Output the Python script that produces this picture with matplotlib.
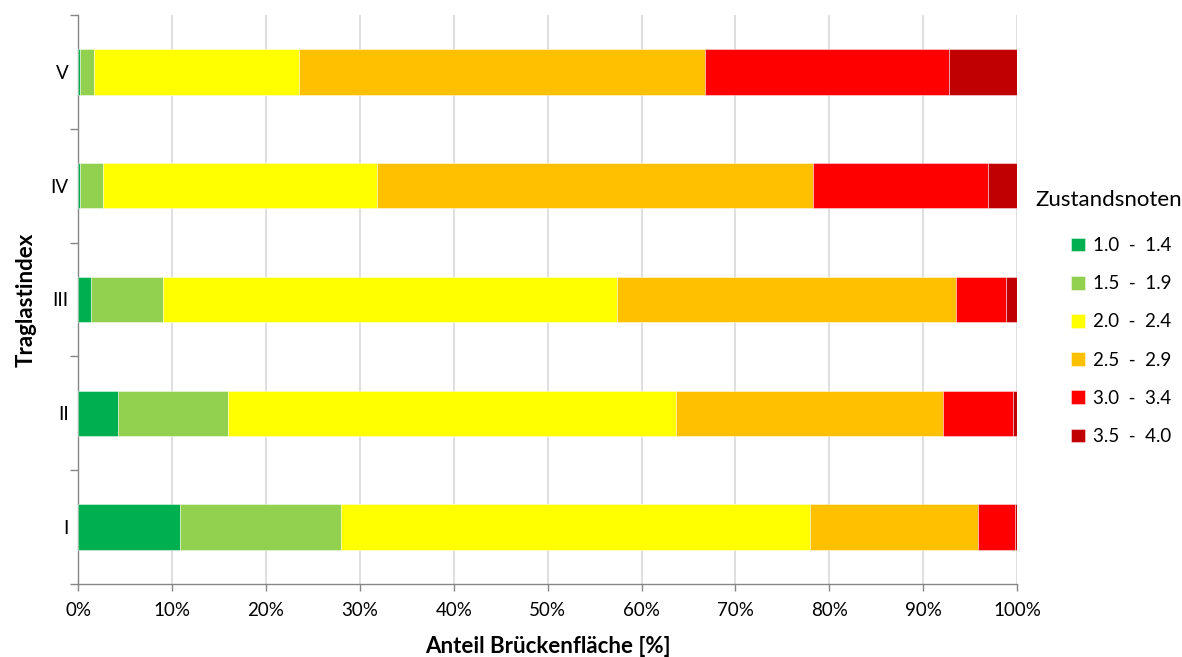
import numpy as np
import matplotlib
matplotlib.use("Agg")
import matplotlib.pyplot as plt
from matplotlib.ticker import FuncFormatter, FixedLocator

plt.rcParams['font.family'] = ['Lato', 'DejaVu Sans']

categories = ['I', 'II', 'III', 'IV', 'V']
grade_labels = ['1.0  -  1.4', '1.5  -  1.9', '2.0  -  2.4',
                '2.5  -  2.9', '3.0  -  3.4', '3.5  -  4.0']
grade_colors = ['#00B050', '#92D050', '#FFFF00', '#FFC000', '#FF0000', '#C00000']

# share of bridge area per grade band (percent), one list per Traglastindex
share_1_0 = [10.8, 4.2, 1.4, 0.2, 0.2]
share_1_5 = [17.2, 11.8, 7.6, 2.4, 1.5]
share_2_0 = [50.0, 47.7, 48.4, 29.2, 21.8]
share_2_5 = [17.8, 28.4, 36.1, 46.5, 43.3]
share_3_0 = [4.0, 7.5, 5.3, 18.6, 26.0]
share_3_5 = [0.2, 0.4, 1.2, 3.1, 7.2]

shares = [share_1_0, share_1_5, share_2_0, share_2_5, share_3_0, share_3_5]

W, H = 1182, 657
fig = plt.figure(figsize=(W / 100, H / 100), dpi=100)
ax = fig.add_axes([78.3 / W, 1 - 584 / H, (1017 - 78.3) / W, (584 - 15) / H])

y = np.arange(len(categories))
left = np.zeros(len(categories))
for vals, lab, col in zip(shares, grade_labels, grade_colors):
    vals = np.array(vals) / 100.0
    ax.barh(y, vals, left=left, height=0.4, color=col, label=lab,
            edgecolor=(1, 1, 1, 0.5), linewidth=0.6, zorder=3)
    left += vals

ax.set_xlim(0, 1)
ax.set_ylim(-0.5, len(categories) - 0.5)
ax.set_xticks(np.arange(0, 1.01, 0.1))
ax.xaxis.set_major_formatter(FuncFormatter(lambda v, p: f'{v * 100:.0f}%'))
ax.grid(axis='x', color='#D9D9D9', linewidth=1.2, zorder=0)

# category labels without ticks, tick marks between categories
ax.set_yticks(y)
ax.set_yticklabels(categories)
ax.yaxis.set_minor_locator(FixedLocator(np.arange(-0.5, len(categories), 1.0)))
ax.tick_params(axis='y', which='major', length=0, pad=7, labelsize=13.5)
ax.tick_params(axis='y', which='minor', length=6, color='#868686', width=1)
ax.tick_params(axis='x', length=5, color='#868686', width=1, labelsize=13.5, pad=8)

for side in ['top', 'right']:
    ax.spines[side].set_visible(False)
for side in ['left', 'bottom']:
    ax.spines[side].set_color('#868686')
    ax.spines[side].set_linewidth(1)

ax.set_xlabel('Anteil Brückenfläche [%]', fontsize=16, fontweight='bold', labelpad=12)
ax.set_ylabel('Traglastindex', fontsize=16, fontweight='bold', labelpad=10)

fig.text(1035 / W, 1 - 200 / H, 'Zustandsnoten', fontsize=16, ha='left', va='center')
leg = fig.legend(loc='upper left', bbox_to_anchor=(1071 / W, 1 - 237 / H),
                 frameon=False, fontsize=13.5, borderpad=0, borderaxespad=0,
                 handlelength=0.75, handleheight=0.75,
                 handletextpad=0.4, labelspacing=1.13)

fig.savefig('out.png', dpi=100, facecolor='white')
